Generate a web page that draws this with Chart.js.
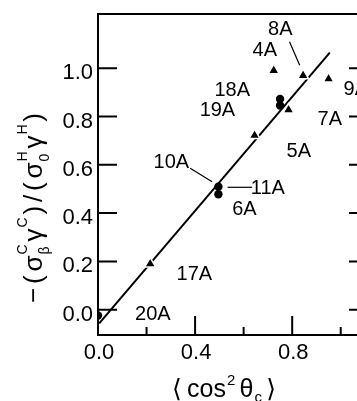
<!DOCTYPE html>
<html>
<head>
<meta charset="utf-8">
<script src="https://cdn.jsdelivr.net/npm/chart.js@4.4.1/dist/chart.umd.min.js"></script>
<style>
  body { margin: 0; background: #fff; }
  #wrap { width: 357px; height: 401px; overflow: hidden; }
</style>
</head>
<body>
<div id="wrap"><canvas id="myChart" width="380" height="401"></canvas></div>
<script>
// triangles (A-series, measured)
const triX = [0.215, 0.645, 0.785, 0.724, 0.845, 0.950];
const triY = [0.19, 0.722, 0.828, 0.991, 0.970, 0.956];
// filled circles
const cirX = [0.0, 0.496, 0.496, 0.750, 0.750];
const cirY = [-0.024, 0.509, 0.478, 0.873, 0.846];
// fitted straight line (end points)
const fitX = [0.005, 0.955];
const fitY = [-0.057, 1.065];

// point labels
const labText = ['8A', '4A', '18A', '19A', '9A', '7A', '5A', '10A', '11A', '6A', '17A', '20A'];
const labX = [0.751, 0.687, 0.553, 0.492, 1.062, 0.955, 0.827, 0.302, 0.700, 0.603, 0.397, 0.226];
const labY = [1.169, 1.078, 0.914, 0.831, 0.918, 0.796, 0.662, 0.616, 0.508, 0.423, 0.151, -0.015];

// leader lines: [x1, y1, x2, y2]
const leaders = [
    [0.789, 1.110, 0.831, 1.013],   // 8A
    [0.380, 0.586, 0.470, 0.530],   // 10A
    [0.534, 0.507, 0.635, 0.507]    // 11A
];

const yTicks = [0.0, 0.2, 0.4, 0.6, 0.8, 1.0];
const yTickLabels = ['0.0', '0.2', '0.4', '0.6', '0.8', '1.0'];
const xMajor = [0.0, 0.4, 0.8];
const xMajorLabels = ['0.0', '0.4', '0.8'];
const xMinor = [0.2, 0.6, 1.0];

const FONT = "'Liberation Sans', 'DejaVu Sans', sans-serif";

function drawRich(ctx, tokens, baseSize, smallSize, supOff, subOff, span) {
    let widths = [];
    let sum = 0;
    tokens.forEach(tk => {
        ctx.font = baseSize + 'px ' + FONT;
        let w = ctx.measureText(tk.t).width;
        ctx.font = smallSize + 'px ' + FONT;
        let ws = Math.max(tk.sub ? ctx.measureText(tk.sub).width : 0,
                          tk.sup ? ctx.measureText(tk.sup).width : 0);
        widths.push([w, ws]);
        sum += w + ws;
    });
    let gap = span ? Math.max(0, (span - sum) / (tokens.length - 1)) : 1;
    let total = sum + gap * (tokens.length - 1);
    let x = -total / 2;
    ctx.textAlign = 'left';
    ctx.textBaseline = 'alphabetic';
    tokens.forEach((tk, i) => {
        ctx.font = baseSize + 'px ' + FONT;
        ctx.fillText(tk.t, x, 0);
        x += widths[i][0];
        ctx.font = smallSize + 'px ' + FONT;
        if (tk.sup) ctx.fillText(tk.sup, x + 1, supOff);
        if (tk.sub) ctx.fillText(tk.sub, x + 1, subOff);
        x += widths[i][1] + gap;
    });
}

const axesPlugin = {
    id: 'axesPlugin',
    afterDraw(chart) {
        const ctx = chart.ctx;
        const xs = chart.scales.x, ys = chart.scales.y;
        const a = chart.chartArea;
        ctx.save();
        ctx.strokeStyle = '#000';
        ctx.fillStyle = '#000';
        ctx.lineWidth = 2;
        ctx.strokeRect(a.left, a.top, a.right - a.left, a.bottom - a.top);

        // y ticks (left inward, right inward)
        ctx.font = '22px ' + FONT;
        ctx.textAlign = 'right';
        ctx.textBaseline = 'alphabetic';
        yTicks.forEach((v, i) => {
            const py = ys.getPixelForValue(v);
            ctx.beginPath();
            ctx.moveTo(a.left, py); ctx.lineTo(a.left + 19, py);
            ctx.moveTo(a.right, py); ctx.lineTo(a.right - 16, py);
            ctx.stroke();
            ctx.fillText(yTickLabels[i], a.left - 5, py + 11);
        });

        // x ticks (inward from bottom)
        ctx.textAlign = 'center';
        xMajor.forEach((v, i) => {
            const px = xs.getPixelForValue(v);
            ctx.beginPath();
            ctx.moveTo(px, a.bottom); ctx.lineTo(px, a.bottom - 19);
            ctx.stroke();
            ctx.fillText(xMajorLabels[i], px + 1, a.bottom + 24);
        });
        xMinor.forEach(v => {
            const px = xs.getPixelForValue(v);
            ctx.beginPath();
            ctx.moveTo(px, a.bottom); ctx.lineTo(px, a.bottom - 8);
            ctx.stroke();
        });

        // leader lines
        ctx.lineWidth = 1.2;
        leaders.forEach(l => {
            ctx.beginPath();
            ctx.moveTo(xs.getPixelForValue(l[0]), ys.getPixelForValue(l[1]));
            ctx.lineTo(xs.getPixelForValue(l[2]), ys.getPixelForValue(l[3]));
            ctx.stroke();
        });

        // point labels
        ctx.font = '20px ' + FONT;
        ctx.textAlign = 'center';
        labText.forEach((t, i) => {
            ctx.fillText(t, xs.getPixelForValue(labX[i]), ys.getPixelForValue(labY[i]) + 7);
        });

        // y axis title
        ctx.save();
        ctx.translate(42, 208);
        ctx.rotate(-Math.PI / 2);
        drawRich(ctx, [
            {t: '\u2212'}, {t: '('}, {t: '\u03c3', sub: '\u03b2', sup: 'C'}, {t: '\u03b3', sup: 'C'},
            {t: ')'}, {t: '/'}, {t: '('}, {t: '\u03c3', sub: '0', sup: 'H'}, {t: '\u03b3', sup: 'H'}, {t: ')'}
        ], 26, 14, -15, 7, 190);
        ctx.restore();

        // x axis title
        ctx.save();
        ctx.translate(224, 397);
        drawRich(ctx, [
            {t: '\u27e8'}, {t: 'cos', sup: '2'}, {t: '\u03b8', sub: 'c'}, {t: '\u27e9'}
        ], 25, 15, -12, 5, 104);
        ctx.restore();

        ctx.restore();
    }
};

const ctx = document.getElementById('myChart').getContext('2d');
const myChart = new Chart(ctx, {
    type: 'scatter',
    data: {
        datasets: [{
            label: 'triangles',
            data: triX.map((x, i) => ({x: x, y: triY[i]})),
            pointStyle: 'triangle',
            pointRadius: 6.3,
            backgroundColor: '#000',
            borderColor: '#fff',
            borderWidth: 1.5,
            order: 0
        }, {
            label: 'circles',
            data: cirX.map((x, i) => ({x: x, y: cirY[i]})),
            pointStyle: 'circle',
            pointRadius: 4.2,
            backgroundColor: '#000',
            borderColor: '#000',
            borderWidth: 0,
            order: 1
        }, {
            label: 'fit',
            data: fitX.map((x, i) => ({x: x, y: fitY[i]})),
            showLine: true,
            pointRadius: 0,
            borderColor: '#000',
            borderWidth: 2,
            order: 2
        }]
    },
    options: {
        responsive: false,
        animation: false,
        layout: {
            padding: {left: 98, top: 14, right: 15, bottom: 66}
        },
        scales: {
            x: {type: 'linear', min: 0, max: 1.1, display: false},
            y: {type: 'linear', min: -0.105, max: 1.225, display: false}
        },
        plugins: {
            legend: {display: false},
            tooltip: {enabled: false}
        }
    },
    plugins: [axesPlugin]
});
</script>
</body>
</html>
